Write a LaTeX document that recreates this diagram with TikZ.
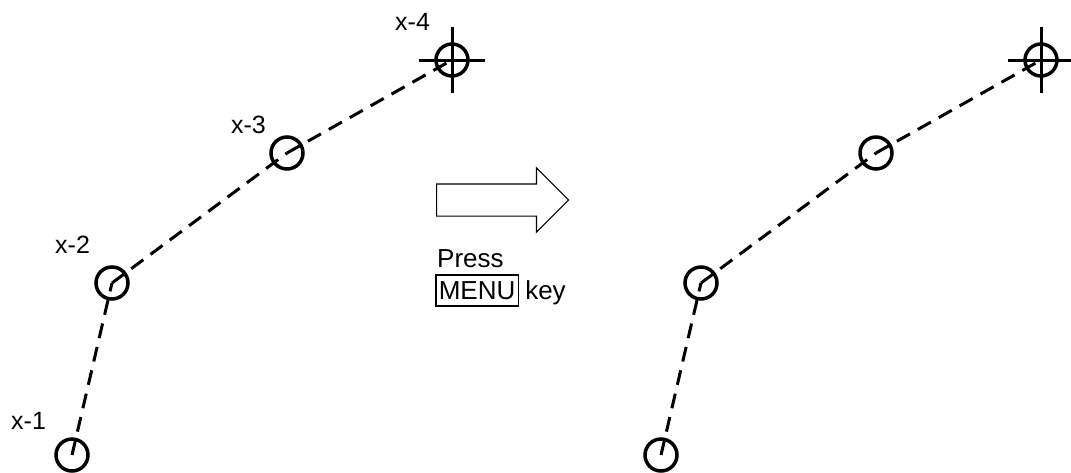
\documentclass[tikz,border=0pt]{standalone}
\usepackage{fontspec}
\setmainfont{Liberation Sans}
\usetikzlibrary{positioning,shapes.arrows}

\begin{document}
\begin{tikzpicture}[
  x=1pt,y=-1pt,
  pt/.style={draw, circle, line width=3.5pt, minimum size=32pt, inner sep=0pt},
  link/.style={line width=3pt, dash pattern=on 15pt off 9pt},
  cross/.style={line width=3pt},
  lbl/.style={font=\fontsize{25}{29}\selectfont, inner sep=0pt},
  note/.style={font=\fontsize{26}{30}\selectfont, inner sep=0pt},
  keybox/.style={draw, line width=1.5pt, font=\fontsize{26}{30}\selectfont, inner xsep=3pt, inner ysep=4pt, text height=21pt, text depth=2pt},
  blockarrow/.style={draw, single arrow, line width=1.2pt, minimum height=132pt, inner xsep=0pt, inner ysep=15.5pt, single arrow head extend=16pt, single arrow tip angle=90}
]
\useasboundingbox (0,0) rectangle (1071,472);
% before
\node[pt] (a1) at (72,455) {};
\node[pt] (a2) at (112,283) {};
\node[pt] (a3) at (287,153) {};
\node[pt] (a4) at (452,60) {};
\draw[link] (a1.center) -- (a2.center);
\draw[link] (a2.center) -- (a3.center);
\draw[link] (a3.center) -- (a4.center);
\draw[cross] ([xshift=-33pt]a4.center) -- ([xshift=33pt]a4.center);
\draw[cross] ([yshift=33pt]a4.center) -- ([yshift=-33pt]a4.center);
\node[lbl, anchor=base west] (l1) at (11,429) {x-1};
\node[lbl, anchor=base west] (l2) at (55,253) {x-2};
\node[lbl, anchor=base east] (l3) at (266,133) {x-3};
\node[lbl, anchor=base west] (l4) at (395,30) {x-4};
% arrow and key
\node[blockarrow, anchor=tail] (go) at (436,200) {};
\node[note, anchor=base west] (press) at (437,267) {Press};
\node[keybox, anchor=north west] (menu) at (435,274) {MENU};
\node[note, anchor=base west] (key) at ([xshift=6pt]menu.base east) {key};
% after
\node[pt] (b1) at (661,455) {};
\node[pt] (b2) at (701,283) {};
\node[pt] (b3) at (876,153) {};
\node[pt] (b4) at (1041,60) {};
\draw[link] (b1.center) -- (b2.center);
\draw[link] (b2.center) -- (b3.center);
\draw[link] (b3.center) -- (b4.center);
\draw[cross] ([xshift=-33pt]b4.center) -- ([xshift=33pt]b4.center);
\draw[cross] ([yshift=33pt]b4.center) -- ([yshift=-33pt]b4.center);
\end{tikzpicture}
\end{document}
